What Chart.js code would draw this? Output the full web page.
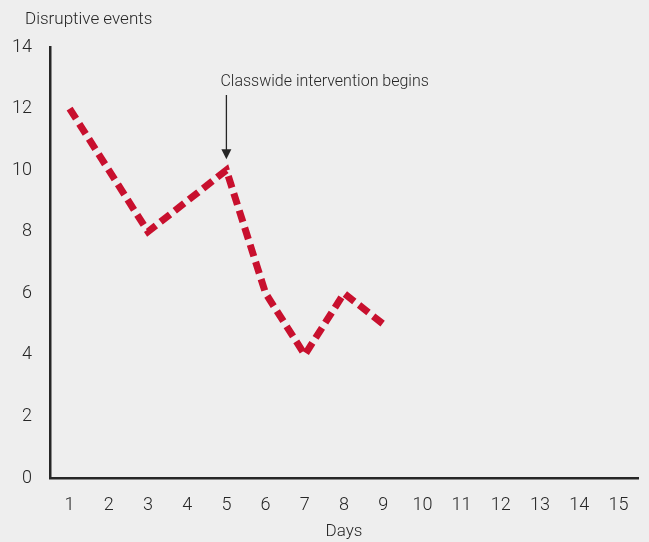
<!DOCTYPE html>
<html>
<head>
<meta charset="utf-8">
<script src="https://cdn.jsdelivr.net/npm/chart.js@4/dist/chart.umd.min.js"></script>
<style>
  html, body { margin: 0; padding: 0; background: #eeeeee; }
  #wrap { width: 649px; height: 542px; position: relative; }
</style>
</head>
<body>
<div id="wrap"><canvas id="chart" width="649" height="542"></canvas></div>
<script>
// Days along the x axis and disruptive events recorded each day
const days = ['1','2','3','4','5','6','7','8','9','10','11','12','13','14','15'];
const events = [12, 10, 8, 9, 10, 6, 4, 6, 5];
const yTicks = [0, 2, 4, 6, 8, 10, 12, 14];

const yTitle = 'Disruptive events';
const xTitle = 'Days';
const noteText = 'Classwide intervention begins';
const noteDay = '5';
const noteValue = 10;

const FONT = 'Roboto, "DejaVu Sans", sans-serif';
const WEIGHT = 300;
const INK = '#262626';

// Background fill, the y-axis caption and the arrow note
const decor = {
  id: 'decor',
  beforeDraw(chart) {
    const ctx = chart.ctx;
    ctx.save();
    ctx.fillStyle = '#eeeeee';
    ctx.fillRect(0, 0, chart.width, chart.height);
    ctx.restore();
  },
  afterDraw(chart) {
    const ctx = chart.ctx;
    const xs = chart.scales.x, ys = chart.scales.y;
    ctx.save();
    ctx.fillStyle = INK;
    ctx.font = WEIGHT + ' 17px ' + FONT;
    ctx.textBaseline = 'middle';
    ctx.textAlign = 'left';
    ctx.fillText(yTitle, 25, 20);

    const px = xs.getPixelForValue(days.indexOf(noteDay));
    const py = ys.getPixelForValue(noteValue);
    ctx.font = WEIGHT + ' 16px ' + FONT;
    ctx.fillText(noteText, px - 6, 82);

    const tipY = py - 11;
    ctx.strokeStyle = INK;
    ctx.lineWidth = 1.3;
    ctx.beginPath();
    ctx.moveTo(px, 95);
    ctx.lineTo(px, tipY - 6);
    ctx.stroke();
    ctx.beginPath();
    ctx.moveTo(px - 5, tipY - 10);
    ctx.lineTo(px + 5, tipY - 10);
    ctx.lineTo(px, tipY);
    ctx.closePath();
    ctx.fill();
    ctx.restore();
  }
};

new Chart(document.getElementById('chart'), {
  type: 'line',
  data: {
    labels: days,
    datasets: [{
      data: events,
      borderColor: '#c8102e',
      borderWidth: 7,
      borderDash: [12, 6],
      borderCapStyle: 'butt',
      borderJoinStyle: 'miter',
      pointRadius: 0,
      tension: 0,
      fill: false
    }]
  },
  options: {
    responsive: false,
    animation: false,
    devicePixelRatio: 1,
    layout: { padding: { top: 47, right: 11, left: 0, bottom: 0 } },
    plugins: { legend: { display: false }, tooltip: { enabled: false } },
    scales: {
      x: {
        type: 'category',
        offset: true,
        grid: { display: false },
        border: { display: true, color: INK, width: 2.5 },
        ticks: { color: INK, font: { family: FONT, size: 18, weight: WEIGHT }, padding: 9, maxRotation: 0, autoSkip: false },
        title: { display: true, text: xTitle, color: INK, font: { family: FONT, size: 17, weight: WEIGHT }, padding: { top: 3, bottom: 0 } },
        afterFit(s) { s.height = 542 - 478; }
      },
      y: {
        min: 0, max: 14,
        afterBuildTicks(s) { s.ticks = yTicks.map(v => ({ value: v })); },
        grid: { display: false },
        border: { display: true, color: INK, width: 2.5 },
        ticks: { color: INK, font: { family: FONT, size: 18, weight: WEIGHT }, padding: 10 },
        afterFit(s) { s.width = 50; }
      }
    }
  },
  plugins: [decor]
});
</script>
</body>
</html>
